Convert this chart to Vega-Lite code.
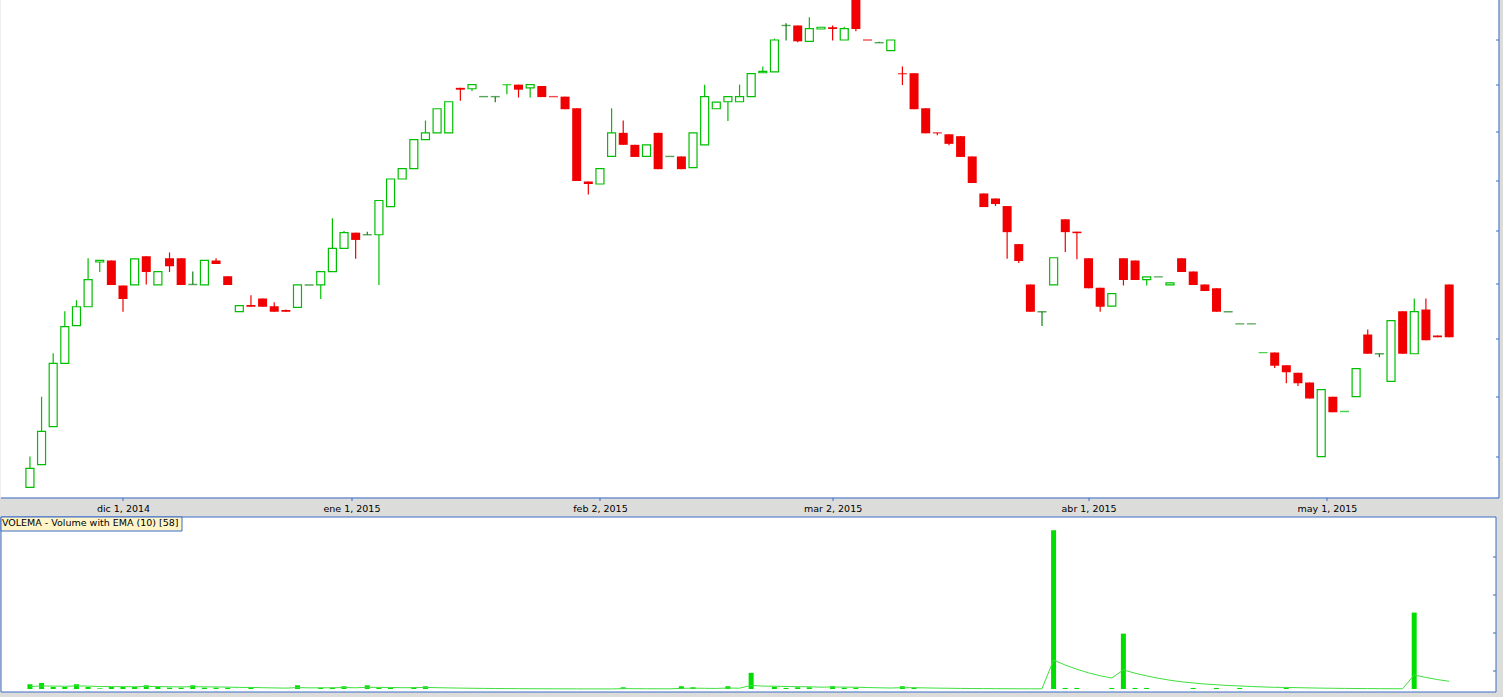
{
"$schema": "https://vega.github.io/schema/vega-lite/v6.json",
"background": "#dcdcda",
"padding": {"left": -0.5, "top": -0.5, "right": 5, "bottom": 5},
"autosize": {"type": "pad"},
"spacing": 19,
"bounds": "flush",
"resolve": {"scale": {"color": "independent", "x": "independent", "y": "independent"}, "legend": {"color": "independent"}, "axis": {"x": "independent", "y": "independent"}},
"config": {"view": {"fill": "white", "stroke": null}, "axis": {"grid": false, "domainColor": "#3a6cc8", "tickColor": "#3a6cc8"}},
"data": {"values": [
{"i":0,"o":19.51,"h":20.00,"l":19.51,"c":19.81,"t":"up","v":5.0,"e":2.55},
{"i":1,"o":19.87,"h":20.99,"l":19.87,"c":20.41,"t":"up","v":6.4,"e":3.25},
{"i":2,"o":20.49,"h":21.74,"l":20.49,"c":21.56,"t":"up","v":2.1,"e":3.04},
{"i":3,"o":21.56,"h":22.49,"l":21.56,"c":22.21,"t":"up","v":2.1,"e":2.87},
{"i":4,"o":22.23,"h":22.69,"l":22.23,"c":22.57,"t":"up","v":5.0,"e":3.26},
{"i":5,"o":22.57,"h":23.47,"l":22.57,"c":23.07,"t":"up","v":2.1,"e":3.05},
{"i":6,"o":23.40,"h":23.43,"l":23.21,"c":23.43,"t":"up","v":0.7,"e":2.62},
{"i":7,"o":23.43,"h":23.43,"l":22.97,"c":22.97,"t":"down","v":2.1,"e":2.53},
{"i":8,"o":22.96,"h":22.96,"l":22.48,"c":22.71,"t":"down","v":2.1,"e":2.45},
{"i":9,"o":22.97,"h":23.46,"l":22.97,"c":23.46,"t":"up","v":2.1,"e":2.39},
{"i":10,"o":23.51,"h":23.51,"l":22.98,"c":23.21,"t":"down","v":3.9,"e":2.66},
{"i":11,"o":22.97,"h":23.22,"l":22.97,"c":23.22,"t":"up","v":2.1,"e":2.56},
{"i":12,"o":23.47,"h":23.58,"l":23.21,"c":23.32,"t":"down","v":1.4,"e":2.35},
{"i":13,"o":23.47,"h":23.47,"l":22.97,"c":22.97,"t":"down","v":1.4,"e":2.18},
{"i":14,"o":22.98,"h":23.22,"l":22.98,"c":22.98,"t":"dojiD","v":3.9,"e":2.49},
{"i":15,"o":22.97,"h":23.43,"l":22.97,"c":23.43,"t":"up","v":1.4,"e":2.29},
{"i":16,"o":23.43,"h":23.47,"l":23.36,"c":23.36,"t":"down","v":1.4,"e":2.13},
{"i":17,"o":23.13,"h":23.13,"l":22.97,"c":22.97,"t":"down","v":1.4,"e":2.00},
{"i":18,"o":22.48,"h":22.59,"l":22.48,"c":22.59,"t":"up","v":0,"e":1.64},
{"i":19,"o":22.60,"h":22.78,"l":22.57,"c":22.57,"t":"down","v":1.8,"e":1.67},
{"i":20,"o":22.72,"h":22.72,"l":22.57,"c":22.57,"t":"down","v":0,"e":1.37},
{"i":21,"o":22.58,"h":22.65,"l":22.48,"c":22.48,"t":"down","v":0,"e":1.12},
{"i":22,"o":22.51,"h":22.52,"l":22.48,"c":22.48,"t":"down","v":0,"e":0.92},
{"i":23,"o":22.56,"h":22.97,"l":22.56,"c":22.97,"t":"up","v":3.9,"e":1.46},
{"i":24,"o":22.97,"h":22.97,"l":22.97,"c":22.97,"t":"dojiD","v":0,"e":1.19},
{"i":25,"o":22.97,"h":23.22,"l":22.71,"c":23.22,"t":"up","v":1.4,"e":1.23},
{"i":26,"o":23.22,"h":24.24,"l":23.22,"c":23.66,"t":"up","v":1.4,"e":1.26},
{"i":27,"o":23.66,"h":23.99,"l":23.66,"c":23.96,"t":"up","v":2.9,"e":1.56},
{"i":28,"o":23.96,"h":23.96,"l":23.46,"c":23.82,"t":"down","v":0,"e":1.28},
{"i":29,"o":23.92,"h":23.98,"l":23.92,"c":23.92,"t":"dojiD","v":3.9,"e":1.76},
{"i":30,"o":23.92,"h":24.59,"l":22.97,"c":24.59,"t":"up","v":1.4,"e":1.69},
{"i":31,"o":24.47,"h":25.02,"l":24.47,"c":25.02,"t":"up","v":1.4,"e":1.64},
{"i":32,"o":25.02,"h":25.23,"l":25.02,"c":25.23,"t":"up","v":0,"e":1.34},
{"i":33,"o":25.23,"h":25.83,"l":25.23,"c":25.83,"t":"up","v":1.8,"e":1.42},
{"i":34,"o":25.83,"h":26.23,"l":25.83,"c":25.97,"t":"up","v":2.9,"e":1.69},
{"i":35,"o":25.97,"h":26.48,"l":25.97,"c":26.48,"t":"up","v":0,"e":1.38},
{"i":36,"o":25.97,"h":26.63,"l":25.97,"c":26.63,"t":"up","v":0,"e":1.13},
{"i":37,"o":26.93,"h":26.93,"l":26.65,"c":26.89,"t":"down","v":0,"e":0.93},
{"i":38,"o":26.91,"h":27.00,"l":26.86,"c":27.00,"t":"up","v":0,"e":0.76},
{"i":39,"o":26.74,"h":26.74,"l":26.74,"c":26.74,"t":"dojiD","v":0,"e":0.62},
{"i":40,"o":26.74,"h":26.74,"l":26.62,"c":26.74,"t":"dojiD","v":0,"e":0.51},
{"i":41,"o":27.00,"h":27.00,"l":26.79,"c":27.00,"t":"dojiU","v":0,"e":0.42},
{"i":42,"o":27.00,"h":27.00,"l":26.72,"c":26.89,"t":"down","v":0,"e":0.34},
{"i":43,"o":26.93,"h":27.00,"l":26.72,"c":27.00,"t":"up","v":0,"e":0.28},
{"i":44,"o":26.97,"h":26.97,"l":26.73,"c":26.73,"t":"down","v":0,"e":0.23},
{"i":45,"o":26.74,"h":26.74,"l":26.74,"c":26.74,"t":"dojiR","v":0,"e":0.19},
{"i":46,"o":26.74,"h":26.74,"l":26.47,"c":26.47,"t":"down","v":0,"e":0.15},
{"i":47,"o":26.49,"h":26.49,"l":24.98,"c":24.98,"t":"down","v":0,"e":0.12},
{"i":48,"o":24.97,"h":24.97,"l":24.71,"c":24.92,"t":"down","v":0,"e":0.10},
{"i":49,"o":24.92,"h":25.23,"l":24.92,"c":25.23,"t":"up","v":0,"e":0.08},
{"i":50,"o":25.48,"h":26.49,"l":25.48,"c":25.97,"t":"up","v":0,"e":0.07},
{"i":51,"o":25.97,"h":26.23,"l":25.72,"c":25.72,"t":"down","v":1.8,"e":0.38},
{"i":52,"o":25.72,"h":25.72,"l":25.47,"c":25.47,"t":"down","v":0,"e":0.31},
{"i":53,"o":25.48,"h":25.72,"l":25.48,"c":25.72,"t":"up","v":0,"e":0.25},
{"i":54,"o":25.97,"h":25.97,"l":25.22,"c":25.22,"t":"down","v":0,"e":0.21},
{"i":55,"o":25.48,"h":25.48,"l":25.48,"c":25.48,"t":"dojiD","v":0,"e":0.17},
{"i":56,"o":25.48,"h":25.48,"l":25.22,"c":25.22,"t":"down","v":2.9,"e":0.67},
{"i":57,"o":25.25,"h":25.97,"l":25.25,"c":25.97,"t":"up","v":1.8,"e":0.88},
{"i":58,"o":25.72,"h":27.00,"l":25.72,"c":26.74,"t":"up","v":0,"e":0.72},
{"i":59,"o":26.48,"h":26.62,"l":26.48,"c":26.62,"t":"up","v":0,"e":0.59},
{"i":60,"o":26.63,"h":26.74,"l":26.22,"c":26.74,"t":"up","v":2.9,"e":1.01},
{"i":61,"o":26.63,"h":27.00,"l":26.63,"c":26.74,"t":"up","v":0,"e":0.83},
{"i":62,"o":26.74,"h":27.24,"l":26.74,"c":27.24,"t":"up","v":17.0,"e":3.77},
{"i":63,"o":27.26,"h":27.40,"l":27.26,"c":27.29,"t":"up","v":0,"e":3.08},
{"i":64,"o":27.28,"h":28.02,"l":27.28,"c":27.99,"t":"up","v":2.4,"e":2.96},
{"i":65,"o":28.32,"h":28.37,"l":27.98,"c":28.32,"t":"dojiD","v":1.1,"e":2.62},
{"i":66,"o":28.32,"h":28.32,"l":27.94,"c":27.96,"t":"down","v":1.8,"e":2.47},
{"i":67,"o":27.96,"h":28.51,"l":27.96,"c":28.25,"t":"up","v":1.8,"e":2.35},
{"i":68,"o":28.24,"h":28.28,"l":28.24,"c":28.28,"t":"up","v":0,"e":1.92},
{"i":69,"o":28.28,"h":28.32,"l":27.98,"c":28.24,"t":"down","v":2.9,"e":2.10},
{"i":70,"o":27.99,"h":28.29,"l":27.99,"c":28.25,"t":"up","v":1.4,"e":1.97},
{"i":71,"o":29.15,"h":29.15,"l":28.19,"c":28.24,"t":"down","v":1.4,"e":1.87},
{"i":72,"o":27.99,"h":27.99,"l":27.99,"c":27.99,"t":"dojiR","v":0,"e":1.53},
{"i":73,"o":27.93,"h":27.95,"l":27.93,"c":27.93,"t":"dojiD","v":0,"e":1.25},
{"i":74,"o":27.75,"h":27.99,"l":27.75,"c":27.99,"t":"up","v":0,"e":1.02},
{"i":75,"o":27.24,"h":27.40,"l":26.99,"c":27.24,"t":"dojiR","v":2.9,"e":1.36},
{"i":76,"o":27.25,"h":27.25,"l":26.47,"c":26.47,"t":"down","v":1.4,"e":1.37},
{"i":77,"o":26.49,"h":26.49,"l":25.96,"c":25.96,"t":"down","v":0,"e":1.12},
{"i":78,"o":25.97,"h":25.97,"l":25.92,"c":25.97,"t":"dojiR","v":0,"e":0.92},
{"i":79,"o":25.94,"h":25.94,"l":25.71,"c":25.74,"t":"down","v":0,"e":0.75},
{"i":80,"o":25.90,"h":25.90,"l":25.47,"c":25.47,"t":"down","v":0,"e":0.61},
{"i":81,"o":25.48,"h":25.48,"l":24.94,"c":24.94,"t":"down","v":0,"e":0.50},
{"i":82,"o":24.73,"h":24.73,"l":24.46,"c":24.46,"t":"down","v":0,"e":0.41},
{"i":83,"o":24.63,"h":24.63,"l":24.48,"c":24.52,"t":"down","v":0,"e":0.34},
{"i":84,"o":24.48,"h":24.48,"l":23.46,"c":23.97,"t":"down","v":0,"e":0.28},
{"i":85,"o":23.74,"h":23.74,"l":23.38,"c":23.42,"t":"down","v":0,"e":0.23},
{"i":86,"o":22.98,"h":22.98,"l":22.48,"c":22.48,"t":"down","v":0,"e":0.19},
{"i":87,"o":22.48,"h":22.48,"l":22.22,"c":22.48,"t":"dojiD","v":0,"e":0.15},
{"i":88,"o":22.97,"h":23.48,"l":22.97,"c":23.48,"t":"up","v":167.6,"e":30.59},
{"i":89,"o":24.22,"h":24.22,"l":23.59,"c":23.97,"t":"down","v":1.1,"e":25.23},
{"i":90,"o":23.98,"h":23.98,"l":23.45,"c":23.95,"t":"down","v":1.1,"e":20.84},
{"i":91,"o":23.47,"h":23.47,"l":22.91,"c":22.91,"t":"down","v":0,"e":17.05},
{"i":92,"o":22.92,"h":22.92,"l":22.48,"c":22.57,"t":"down","v":0,"e":13.95},
{"i":93,"o":22.58,"h":22.81,"l":22.58,"c":22.81,"t":"up","v":1.1,"e":11.61},
{"i":94,"o":23.47,"h":23.47,"l":22.96,"c":23.06,"t":"down","v":58.4,"e":20.12},
{"i":95,"o":23.43,"h":23.43,"l":23.06,"c":23.06,"t":"down","v":1.1,"e":16.66},
{"i":96,"o":23.07,"h":23.12,"l":22.96,"c":23.12,"t":"up","v":1.1,"e":13.83},
{"i":97,"o":23.12,"h":23.12,"l":23.12,"c":23.12,"t":"dojiD","v":0,"e":11.32},
{"i":98,"o":22.97,"h":23.01,"l":22.97,"c":23.01,"t":"up","v":0,"e":9.26},
{"i":99,"o":23.47,"h":23.47,"l":23.21,"c":23.21,"t":"down","v":0,"e":7.58},
{"i":100,"o":23.22,"h":23.22,"l":22.97,"c":22.97,"t":"down","v":1.1,"e":6.40},
{"i":101,"o":22.98,"h":22.98,"l":22.86,"c":22.86,"t":"down","v":0,"e":5.24},
{"i":102,"o":22.91,"h":22.91,"l":22.48,"c":22.48,"t":"down","v":1.1,"e":4.49},
{"i":103,"o":22.48,"h":22.48,"l":22.48,"c":22.48,"t":"dojiD","v":0,"e":3.67},
{"i":104,"o":22.26,"h":22.26,"l":22.26,"c":22.26,"t":"dojiD","v":1.1,"e":3.20},
{"i":105,"o":22.26,"h":22.26,"l":22.26,"c":22.26,"t":"dojiD","v":0,"e":2.62},
{"i":106,"o":21.75,"h":21.75,"l":21.75,"c":21.75,"t":"dojiU","v":0,"e":2.14},
{"i":107,"o":21.75,"h":21.75,"l":21.48,"c":21.52,"t":"down","v":0,"e":1.75},
{"i":108,"o":21.53,"h":21.53,"l":21.22,"c":21.41,"t":"down","v":1.4,"e":1.69},
{"i":109,"o":21.40,"h":21.40,"l":21.17,"c":21.22,"t":"down","v":0,"e":1.38},
{"i":110,"o":21.23,"h":21.23,"l":20.96,"c":20.96,"t":"down","v":0,"e":1.13},
{"i":111,"o":20.00,"h":21.11,"l":20.00,"c":21.11,"t":"up","v":0,"e":0.92},
{"i":112,"o":20.99,"h":20.99,"l":20.73,"c":20.73,"t":"down","v":0,"e":0.76},
{"i":113,"o":20.74,"h":20.74,"l":20.74,"c":20.74,"t":"dojiU","v":0,"e":0.62},
{"i":114,"o":20.99,"h":21.47,"l":20.99,"c":21.47,"t":"up","v":0,"e":0.51},
{"i":115,"o":22.07,"h":22.16,"l":21.73,"c":21.73,"t":"down","v":0,"e":0.41},
{"i":116,"o":21.73,"h":21.73,"l":21.67,"c":21.73,"t":"dojiD","v":0,"e":0.34},
{"i":117,"o":21.25,"h":22.32,"l":21.25,"c":22.32,"t":"up","v":0,"e":0.28},
{"i":118,"o":22.49,"h":22.49,"l":21.73,"c":21.73,"t":"down","v":0,"e":0.23},
{"i":119,"o":21.73,"h":22.72,"l":21.73,"c":22.48,"t":"up","v":80.6,"e":14.84},
{"i":120,"o":22.52,"h":22.72,"l":21.97,"c":21.97,"t":"down","v":0,"e":12.14},
{"i":121,"o":22.05,"h":22.05,"l":22.02,"c":22.02,"t":"down","v":0,"e":9.94},
{"i":122,"o":22.98,"h":22.98,"l":22.02,"c":22.02,"t":"down","v":0,"e":8.13}
]},
"vconcat": [
{
"width": 1498,
"height": 498,
"encoding": {
  "x": {"field": "i", "type": "quantitative",
    "scale": {"domain": [-2.1, 125.81], "nice": false, "zero": false},
    "axis": {"orient": "bottom", "values": [8, 27.64, 49, 69, 91, 111.49],
      "labelExpr": "datum.value < 10 ? 'dic 1, 2014' : datum.value < 30 ? 'ene 1, 2015' : datum.value < 50 ? 'feb 2, 2015' : datum.value < 70 ? 'mar 2, 2015' : datum.value < 100 ? 'abr 1, 2015' : 'may 1, 2015'",
      "tickSize": 3, "labelPadding": 3, "labelFont": "DejaVu Sans", "labelFontSize": 9.5, "labelColor": "#000000",
      "title": null, "labelFlush": false, "labelOverlap": false, "domainWidth": 1}}
},
"layer": [
  {"mark": {"type": "rule", "clip": true, "strokeWidth": 1.2},
   "encoding": {
     "y": {"field": "l", "type": "quantitative",
       "scale": {"type": "log", "domain": [19.35, 28.92], "nice": false, "zero": false},
       "axis": {"orient": "right", "values": [20, 21, 22, 23, 24, 25, 26, 27, 28], "labels": false, "tickSize": -3, "title": null, "domainWidth": 1}},
     "y2": {"field": "h"},
     "color": {"field": "t", "type": "nominal",
       "scale": {"domain": ["up", "down", "dojiD", "dojiR", "dojiU"], "range": ["#00bf00", "#f00000", "#127f12", "#f00000", "#00bf00"]},
       "legend": null}}},
  {"transform": [{"filter": "datum.t == 'up'"}],
   "mark": {"type": "bar", "clip": true, "width": 8, "fill": "white", "stroke": "#00bf00", "strokeWidth": 1.2},
   "encoding": {"y": {"field": "o", "type": "quantitative"}, "y2": {"field": "c"}}},
  {"transform": [{"filter": "datum.t == 'down'"}],
   "mark": {"type": "bar", "clip": true, "width": 9, "fill": "#f00000"},
   "encoding": {"y": {"field": "o", "type": "quantitative"}, "y2": {"field": "c"}}},
  {"transform": [{"filter": "indexof(datum.t, 'doji') == 0"}],
   "mark": {"type": "tick", "orient": "horizontal", "size": 9, "thickness": 1.4, "clip": true},
   "encoding": {"y": {"field": "o", "type": "quantitative"},
     "color": {"field": "t", "type": "nominal", "legend": null}}}
]
},
{
"width": 1495,
"height": 175,
"view": {"stroke": "#3a6cc8", "strokeWidth": 1, "fill": "white"},
"encoding": {
  "x": {"field": "i", "type": "quantitative",
    "scale": {"domain": [-2.1, 125.56], "nice": false, "zero": false},
    "axis": null}
},
"layer": [
  {"transform": [{"fold": ["v"], "as": ["s", "vol"]}],
   "mark": {"type": "bar", "width": 5, "orient": "vertical"},
   "encoding": {
     "y": {"field": "vol", "type": "quantitative", "stack": null,
       "scale": {"domain": [-2.65, 182], "nice": false, "zero": false},
       "axis": {"orient": "right", "values": [20, 40, 60, 80, 100, 120, 140, 160], "labels": false, "tickSize": -3, "domain": false, "title": null}},
     "color": {"field": "s", "type": "nominal",
       "scale": {"range": ["#00dd00"]},
       "legend": {"orient": "top-left", "offset": 0, "padding": 2, "fillColor": "#fff5c8", "strokeColor": "#3a6cc8",
         "title": null, "symbolSize": 0, "symbolStrokeWidth": 0, "symbolOpacity": 0, "labelOffset": -10,
         "labelExpr": "'VOLEMA - Volume with EMA (10) [58]'",
         "labelFont": "DejaVu Sans", "labelFontSize": 9.5, "labelColor": "#000000", "labelLimit": 400}}}},
  {"mark": {"type": "line", "strokeWidth": 1, "color": "#3ee03e"},
   "encoding": {"y": {"field": "e", "type": "quantitative"}}}
]
}
]
}
